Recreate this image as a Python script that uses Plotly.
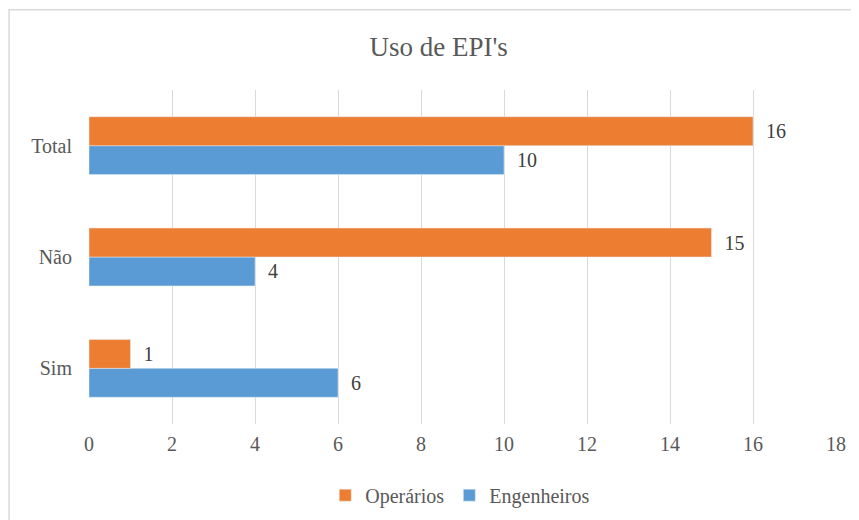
import plotly.graph_objects as go

categories = ["Sim", "Não", "Total"]
operarios = [1, 15, 16]
engenheiros = [6, 4, 10]
x_ticks = [0, 2, 4, 6, 8, 10, 12, 14, 16, 18]

serif = "Liberation Serif"
grey = "#595959"

fig = go.Figure()

# Engenheiros first so it sits below Operários in each group
fig.add_trace(go.Bar(
    y=categories, x=engenheiros, orientation="h", name="Engenheiros",
    marker=dict(color="#5B9BD5"),
    text=engenheiros, texttemplate="  %{x}", textposition="outside",
    textfont=dict(family=serif, color="#404040", size=20),
))
fig.add_trace(go.Bar(
    y=categories, x=operarios, orientation="h", name="Operários",
    marker=dict(color="#ED7D31"),
    text=operarios, texttemplate="  %{x}", textposition="outside",
    textfont=dict(family=serif, color="#404040", size=20),
))

fig.update_layout(
    width=851, height=512,
    barmode="group", bargap=0.48, bargroupgap=0,
    plot_bgcolor="white", paper_bgcolor="white",
    font=dict(family=serif, color=grey, size=20),
    title=dict(text="Uso de EPI's", x=0.506, xanchor="center", y=0.924, yanchor="middle",
               font=dict(family=serif, size=27, color=grey)),
    margin=dict(l=81, r=23, t=82, b=96, autoexpand=False),
    xaxis=dict(range=[0, 18], tickvals=x_ticks, showgrid=True, gridcolor="#D9D9D9",
               gridwidth=1, zeroline=False, showline=False, ticks="",
               ticklabelstandoff=6, automargin=False,
               tickfont=dict(family=serif, size=20, color=grey)),
    yaxis=dict(showgrid=False, zeroline=False, showline=False, ticks="",
               ticklabelstandoff=16, automargin=False,
               tickfont=dict(family=serif, size=20, color=grey)),
    showlegend=True,
    legend=dict(orientation="h", x=0.497, xanchor="center", y=-0.213, yanchor="middle",
                traceorder="reversed", itemwidth=30,
                font=dict(family=serif, size=20, color=grey)),
    shapes=[dict(type="rect", xref="paper", yref="paper",
                 x0=-0.107, x1=1.1, y0=-0.5, y1=1.24,
                 line=dict(color="#D9D9D9", width=1.5))],
)

fig.write_html("out.html")
